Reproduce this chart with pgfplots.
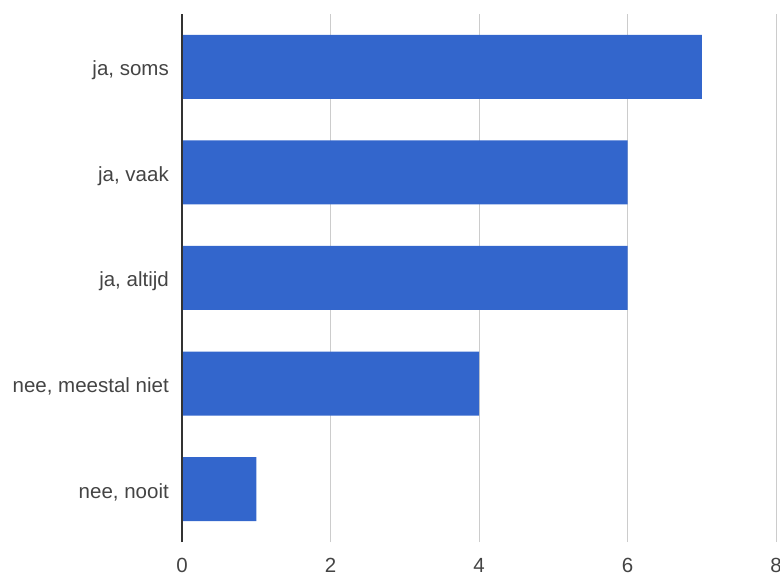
\documentclass[border=0pt]{standalone}
\usepackage{pgfplots}
\pgfplotsset{compat=1.18}
\usepackage{fontspec}
\setmainfont{Liberation Sans}
\definecolor{barblue}{HTML}{3366CC}
\definecolor{lbl}{HTML}{444444}
\definecolor{gridc}{HTML}{CCCCCC}
\definecolor{basec}{HTML}{333333}
\begin{document}
\begin{tikzpicture}
\begin{axis}[
  name=ax,
  scale only axis,
  width=594pt, height=528pt,
  xbar,
  xmin=0, xmax=8,
  ymin=-0.5, ymax=4.5,
  xtick={0,2,4,6,8},
  ytick={0,1,2,3,4},
  yticklabels={nee\rlap{,} nooit, {nee, meestal niet}, {ja, altijd}, {ja, vaak}, {ja, soms}},
  yticklabels={{nee, nooit}, {nee, meestal niet}, {ja, altijd}, {ja, vaak}, {ja, soms}},
  bar width=0.606,
  axis line style={draw=none},
  major tick length=0pt,
  xmajorgrids,
  grid style={gridc, line width=1pt},
  /pgf/number format/assume math mode=true,
  tick label style={font=\fontsize{20.5}{24}\selectfont, text=lbl},
  xticklabel style={anchor=center, yshift=-23pt},
  yticklabel style={anchor=base east, inner sep=0pt, xshift=-13pt, yshift=-9pt},
  clip=false,
]
\addplot[fill=barblue, draw=none] coordinates {(1,0) (4,1) (6,2) (6,3) (7,4)};
\draw[basec, line width=1.2pt] (axis cs:0,-0.5) -- (axis cs:0,4.5);
\end{axis}
\pgfresetboundingbox
\path[use as bounding box] ([xshift=-182pt,yshift=-33pt]ax.south west) rectangle ([xshift=4pt,yshift=14pt]ax.north east);
\end{tikzpicture}
\end{document}
